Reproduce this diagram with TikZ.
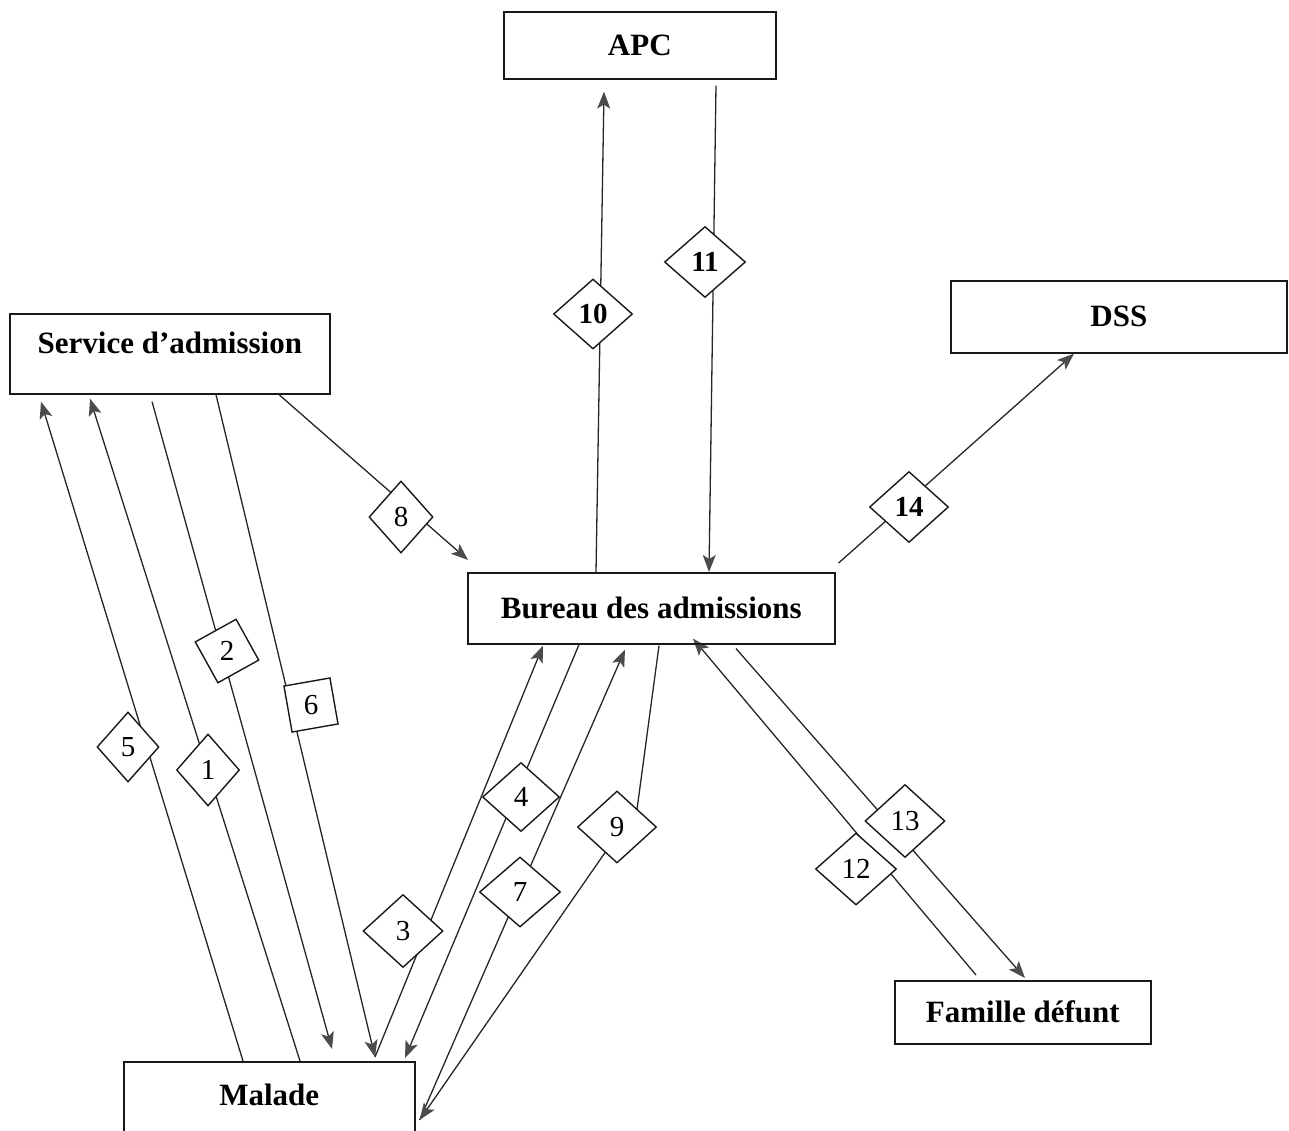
\documentclass[tikz,border=0pt]{standalone}
\usepackage{fontspec}
\setmainfont{Liberation Serif}
\usetikzlibrary{shapes.geometric,arrows.meta,calc}
\pgfdeclarelayer{bg}
\pgfsetlayers{bg,main}
\begin{document}
\begin{tikzpicture}[x=1pt,y=-1pt,
  box/.style={draw=black!90, line width=1.6pt, rectangle, inner sep=0pt,
    anchor=north west, font=\fontsize{31}{36}\selectfont\bfseries,
    text height=20pt, text depth=0pt},
  rhomb/.style={draw=black!90, line width=1.4pt, fill=white, diamond,
    inner sep=0pt, font=\fontsize{29}{32}\selectfont},
  tilted/.style={draw=black!90, line width=1.4pt, fill=white,
    regular polygon, regular polygon sides=4, minimum size=66pt,
    inner sep=0pt, font=\fontsize{29}{32}\selectfont},
  conn/.style={draw=black!85, line width=1.3pt,
    -{Stealth[length=17pt,width=13pt,inset=4pt,color=black!70]}},
]
\useasboundingbox (0,0) rectangle (1289,1130);
\clip (0,0) rectangle (1289,1130);

% entities
\node[box, minimum width=272pt, minimum height=67pt] (apc) at (503,11) {APC};
\node[box, minimum width=320pt, minimum height=80pt, text depth=20pt] (service) at (9,313) {Service d’admission};
\node[box, minimum width=336pt, minimum height=72pt] (dss) at (950,280) {DSS};
\node[box, minimum width=367pt, minimum height=71pt] (bureau) at (467,572) {Bureau des admissions};
\node[box, minimum width=256pt, minimum height=63pt] (famille) at (894,980) {Famille défunt};
\node[box, minimum width=291pt, minimum height=80pt, text depth=12pt] (malade) at (123,1061) {Malade};

% flow numbers
\node[rhomb, minimum width=63pt, minimum height=72pt] (d1) at (208,770) {1};
\node[tilted, shape border rotate=29] (d2) at (227,651) {2};
\node[rhomb, minimum width=80pt, minimum height=73pt] (d3) at (403,931) {3};
\node[rhomb, minimum width=77pt, minimum height=69pt] (d4) at (521,797) {4};
\node[rhomb, minimum width=62pt, minimum height=70pt] (d5) at (128,747) {5};
\node[tilted, shape border rotate=10] (d6) at (311,705) {6};
\node[rhomb, minimum width=81pt, minimum height=70pt] (d7) at (520,892) {7};
\node[rhomb, minimum width=64pt, minimum height=72pt] (d8) at (401,517) {8};
\node[rhomb, minimum width=79pt, minimum height=72pt] (d9) at (617,827) {9};
\node[rhomb, minimum width=79pt, minimum height=70pt, font=\fontsize{29}{32}\selectfont\bfseries] (d10) at (593,314) {10};
\node[rhomb, minimum width=81pt, minimum height=71pt, font=\fontsize{29}{32}\selectfont\bfseries] (d11) at (705,262) {11};
\node[rhomb, minimum width=81pt, minimum height=72pt] (d12) at (856,869) {12};
\node[rhomb, minimum width=80pt, minimum height=73pt] (d13) at (905,821) {13};
\node[rhomb, minimum width=79pt, minimum height=71pt, font=\fontsize{29}{32}\selectfont\bfseries] (d14) at (909,507) {14};

\begin{pgfonlayer}{bg}
% flows between Malade and Service d'admission
\draw[conn] ($(malade.north west)+(177,0)$) -- ($(service.south west)+(81,4)$);
\draw[conn] ($(service.south west)+(143,7)$) -- ($(malade.north west)+(209,-12)$);
\draw[conn] ($(malade.north west)+(120,0)$) -- ($(service.south west)+(32,7)$);
\draw[conn] ($(service.south west)+(207,0)$) -- ($(malade.north west)+(252,-4)$);

% flows between Malade and Bureau des admissions
\draw[conn] ($(malade.north west)+(252,-4)$) -- ($(bureau.south west)+(76,1)$);
\draw[conn] ($(bureau.south west)+(112,0)$) -- ($(malade.north west)+(282,-3)$);
\draw[conn] ($(malade.north east)+(4,59)$) -- ($(bureau.south west)+(158,5)$);
\draw[conn] ($(bureau.south west)+(192,1)$) -- (d9.north east)
  -- ($(d9.south)!0.3!(d9.west)$) -- ($(malade.north east)+(4,59)$);

% Service d'admission to Bureau des admissions
\draw[conn] ($(service.south west)+(270,0)$) -- ($(bureau.north west)+(1,-12)$);

% Bureau des admissions and APC
\draw[conn] ($(bureau.north west)+(129,0)$) -- ($(apc.south west)+(101,12)$);
\draw[conn] ($(apc.south west)+(213,6)$) -- ($(bureau.north west)+(242,0)$);

% Bureau des admissions and Famille défunt
\draw[conn] ($(famille.north west)+(82,-5)$) -- ($(bureau.south west)+(226,-6)$);
\draw[conn] ($(bureau.south west)+(269,4)$) -- ($(famille.north west)+(131,-2)$);

% Bureau des admissions to DSS
\draw[conn] ($(bureau.north east)+(3,-9)$) -- ($(dss.south west)+(124,0)$);
\end{pgfonlayer}
\end{tikzpicture}
\end{document}
